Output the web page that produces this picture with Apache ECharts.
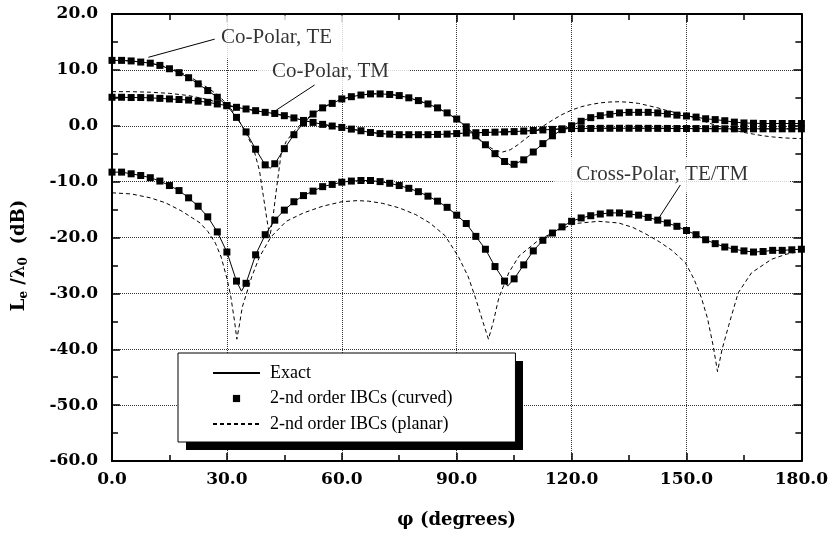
<!DOCTYPE html>
<html><head><meta charset="utf-8">
<script src="https://cdn.jsdelivr.net/npm/echarts@6/dist/echarts.min.js"></script>
<style>html,body{margin:0;padding:0;background:#fff}#c{width:831px;height:536px}</style>
</head><body><div id="c"></div>
<script>
// ---------- data ----------
const phi = [0,2.5,5,7.5,10,12.5,15,17.5,20,22.5,25,27.5,30,32.5,35,37.5,40,42.5,45,47.5,50,52.5,55,57.5,60,62.5,65,67.5,70,72.5,75,77.5,80,82.5,85,87.5,90,92.5,95,97.5,100,102.5,105,107.5,110,112.5,115,117.5,120,122.5,125,127.5,130,132.5,135,137.5,140,142.5,145,147.5,150,152.5,155,157.5,160,162.5,165,167.5,170,172.5,175,177.5,180];

const curvedTE = [11.7,11.7,11.6,11.4,11.2,10.8,10.2,9.5,8.6,7.5,
  6.3,5.1,3.6,1.5,-1.1,-4.2,-7.0,-6.8,-4.1,-1.6,
  0.5,2.1,3.2,4.0,4.8,5.2,5.5,5.7,5.7,5.6,
  5.4,5.0,4.5,3.9,3.2,2.3,1.2,-0.2,-1.8,-3.4,
  -5.0,-6.4,-6.9,-6.1,-4.7,-3.2,-1.8,-0.7,0.0,0.8,
  1.45,1.8,2.05,2.3,2.4,2.4,2.4,2.3,2.1,1.9,
  1.75,1.55,1.25,1.1,0.9,0.65,0.5,0.45,0.4,0.4,
  0.4,0.4,0.4];

const curvedTM = [5.1,5.1,5.05,5.05,5.0,4.9,4.8,4.7,4.6,4.4,
  4.2,3.9,3.6,3.3,3.0,2.7,2.4,2.2,1.8,1.4,
  0.95,0.6,0.25,-0.05,-0.3,-0.6,-0.9,-1.2,-1.4,-1.5,
  -1.6,-1.6,-1.6,-1.6,-1.55,-1.5,-1.4,-1.3,-1.25,-1.2,
  -1.15,-1.1,-1.05,-0.95,-0.85,-0.75,-0.65,-0.55,-0.5,-0.5,
  -0.48,-0.46,-0.45,-0.45,-0.45,-0.45,-0.46,-0.47,-0.48,-0.5,
  -0.5,-0.5,-0.52,-0.53,-0.54,-0.55,-0.55,-0.55,-0.55,-0.55,
  -0.55,-0.55,-0.55];

const curvedX = [-8.3,-8.3,-8.6,-8.9,-9.3,-9.9,-10.7,-11.6,-12.9,-14.4,
  -16.3,-19.0,-22.6,-27.8,-28.2,-23.1,-19.5,-16.9,-15.1,-13.6,
  -12.5,-11.7,-10.9,-10.5,-10.1,-9.9,-9.8,-9.8,-10.0,-10.3,
  -10.7,-11.2,-11.8,-12.6,-13.5,-14.6,-16.0,-17.5,-19.8,-22.1,
  -25.2,-27.8,-27.4,-24.9,-22.4,-20.5,-19.2,-18.1,-17.1,-16.5,
  -16.1,-15.8,-15.6,-15.6,-15.8,-16.0,-16.4,-16.9,-17.4,-18.0,
  -18.75,-19.5,-20.4,-21.1,-21.7,-22.1,-22.4,-22.6,-22.5,-22.3,
  -22.3,-22.2,-22.1];

// extra points of the exact solution at the bottoms of the nulls
const exactDipTE = [[41.3,-7.6],[104.2,-7.1]];
const exactDipTM = [];
const exactDipX = [[33.8,-29.6],[103.3,-28.7]];

const planarTE = [[0,11.7],[5,11.6],[10,11.2],[15,10.4],[20,8.9],[25,6.8],[28,5.3],[31,3.1],[33,1.1],[35,-1.3],[37,-4.2],
  [38.5,-8],[39.5,-12.5],[40.5,-17],[41.2,-20],[42,-16.5],[43,-11],[44.2,-4.8],[45.5,-2.8],[47.5,-1.0],[50,0.7],
  [52.5,2.2],[55,3.3],[57.5,4.1],[60,4.8],[65,5.5],[70,5.8],[75,5.4],[80,4.5],[85,3.2],[88,2.0],[90,1.2],
  [92.5,-0.4],[95,-2.0],[97.5,-3.4],[100,-4.4],[102,-4.7],[104,-4.3],[106,-3.4],[108,-2.3],[110,-1.3],
  [112.5,-0.1],[115,1.0],[117.5,2.0],[120,2.8],[122.5,3.4],[125,3.8],[127.5,4.1],[130,4.25],[132.5,4.3],
  [135,4.2],[137.5,4.0],[140,3.6],[142.5,3.2],[145,2.7],[147.5,2.3],[150,1.9],[152.5,1.3],[155,0.7],
  [157.5,0.1],[160,-0.4],[162.5,-0.8],[165,-1.2],[167.5,-1.5],[170,-1.8],[172.5,-2.0],[175,-2.15],[177.5,-2.25],[180,-2.3]];

const planarTM = [[0,6.1],[5,6.1],[10,6.0],[15,5.8],[20,5.4],[25,4.7],[30,3.7],[35,3.0],[40,2.4],[45,1.8],
  [50,0.95],[55,0.25],[60,-0.3],[65,-0.9],[70,-1.4],[75,-1.6],[80,-1.6],[85,-1.55],[90,-1.4],[95,-1.25],
  [100,-1.15],[105,-1.05],[110,-0.85],[115,-0.65],[120,-0.5],[130,-0.45],[140,-0.45],[150,-0.5],[160,-0.53],[170,-0.55],[180,-0.55]];

const planarX = [[0,-12.0],[5,-12.2],[10,-12.9],[14,-13.8],[18,-15.2],[21,-16.5],[23,-17.4],[25,-18.9],[27,-21],
  [28.5,-23.5],[30,-27.3],[31,-30.5],[32,-35],[32.6,-38.2],[33.3,-35.5],[34,-32.5],[35,-30.3],[36.5,-27],
  [38.5,-23.5],[41.5,-19.9],[45.5,-17.1],[50,-15.6],[55,-14.4],[60,-13.6],[64,-13.4],[67,-13.5],[70.7,-13.9],
  [75,-14.7],[79.3,-15.9],[83,-17.4],[87,-19.7],[90.5,-23.5],[93,-27],[95,-31],[96.8,-35],[98.3,-38.2],
  [99.6,-35],[101,-30.8],[103.6,-26.3],[106.3,-23.3],[111.5,-20.4],[116.7,-18.6],[121,-17.5],[127,-17.1],
  [132.3,-17.4],[136,-18.2],[139.2,-19.3],[143,-20.8],[146.2,-22.3],[149.7,-24.5],[152,-27.5],[153.9,-30.8],
  [155.5,-34.5],[157,-39.5],[158.1,-44.0],[159.3,-40],[161,-35.8],[163.5,-29.9],[167,-26.3],[172.2,-23.9],
  [176,-23.0],[180,-22.4]];

const legendNames = ['Exact', '2-nd order IBCs (curved)', '2-nd order IBCs (planar)'];

// axis ranges / ticks
const xRange = [0, 180], xStep = 30;
const yRange = [-60, 20], yStep = 10;

// annotations (anchor = centre of the white label box, in data units)
const annotationText = ['Co-Polar, TE', 'Co-Polar, TM', 'Cross-Polar, TE/TM'];
const annotationAnchor = [[44.15, 15.88], [57.7, 9.8], [146.26, -8.81]];
const arrowFrom = [[26.8, 15.5], [52.9, 7.3], [148.4, -10.6]];
const arrowTo = [[9.5, 12.25], [42.9, 2.8], [142.7, -16.6]];
// ---------- styles ----------
const annotationPadding = [[14, 12, 8, 3], [7, 20, 10, 15], [8, 42, 6, 22]];

const pairs = (ys) => phi.map((p, i) => [p, ys[i]]);
const withDips = (ys, dips) => pairs(ys).concat(dips).sort((a, b) => a[0] - b[0]);

const tickFont = {fontFamily: 'DejaVu Serif', fontWeight: 'bold', fontSize: 17, color: '#000'};
const axisLine = {onZero: false, lineStyle: {color: '#000', width: 2}};
const axisTick = {inside: true, length: 8, lineStyle: {color: '#000', width: 1.5}};
const minorTick = {show: true, splitNumber: 2, length: 6, lineStyle: {color: '#000', width: 1.5}};
const gridLine = {show: true, lineStyle: {color: '#333', type: 'dotted', width: 1}};

const black = '#000';
function planarSeries(d) {
  return {name: legendNames[2], type: 'line', data: d, symbol: 'none', z: 2,
    lineStyle: {color: black, width: 1, type: [4, 3]}, itemStyle: {color: black, opacity: 0}};
}
function exactSeries(d) {
  return {name: legendNames[0], type: 'line', data: d, symbol: 'none', z: 2,
    lineStyle: {color: black, width: 1}, itemStyle: {color: black, opacity: 0}};
}
function curvedSeries(d) {
  return {name: legendNames[1], type: 'line', data: d, symbol: 'rect', symbolSize: 7, showAllSymbol: true, z: 2,
    lineStyle: {color: black, width: 1, opacity: 0}, itemStyle: {color: black}};
}

const legendBox = {left: 178, top: 353, width: 337, height: 89, shadow: 8};

const chart = echarts.init(document.getElementById('c'), null, {renderer: 'canvas'});
chart.setOption({
  animation: false,
  backgroundColor: '#fff',
  grid: {left: 112, right: 28, top: 14, bottom: 75},
  legend: {
    data: legendNames, orient: 'vertical', left: legendBox.left, top: legendBox.top,
    itemWidth: 47, itemHeight: 9, itemGap: 5.5, padding: [10, 63, 8, 34],
    backgroundColor: '#fff', borderColor: '#000', borderWidth: 1,
    selectedMode: false,
    textStyle: {fontFamily: 'Liberation Serif', fontSize: 18, color: '#000', lineHeight: 20, padding: [0, 0, 0, 5]}
  },
  graphic: [{
    type: 'rect', z: 3, silent: true,
    left: legendBox.left + legendBox.shadow, top: legendBox.top + legendBox.shadow,
    shape: {width: legendBox.width, height: legendBox.height},
    style: {fill: '#000'}
  }],
  xAxis: [
    {type: 'value', min: xRange[0], max: xRange[1], interval: xStep, position: 'bottom',
      axisLine, axisTick, minorTick, splitLine: gridLine,
      axisLabel: Object.assign({formatter: v => v.toFixed(1), margin: 10}, tickFont),
      name: 'φ (degrees)', nameLocation: 'middle', nameGap: 50,
      nameTextStyle: {fontFamily: 'DejaVu Serif', fontWeight: 'bold', fontSize: 18, color: '#000'}},
    {type: 'value', min: xRange[0], max: xRange[1], interval: xStep, position: 'top',
      axisLine, axisTick, minorTick, splitLine: {show: false}, axisLabel: {show: false}}
  ],
  yAxis: [
    {type: 'value', min: yRange[0], max: yRange[1], interval: yStep, position: 'left',
      axisLine, axisTick, minorTick, splitLine: gridLine,
      axisLabel: Object.assign({formatter: v => v.toFixed(1), margin: 14}, tickFont),
      name: '{m|L}{s|e}{m| /λ}{s|0}{m|  (dB)}', nameLocation: 'middle', nameGap: 82,
      nameTextStyle: {padding: [0, 36, 0, 0], rich: {
        m: {fontFamily: 'DejaVu Serif', fontWeight: 'bold', fontSize: 18, color: '#000'},
        s: {fontFamily: 'DejaVu Serif', fontWeight: 'bold', fontSize: 12, color: '#000', padding: [10, 0, 0, 0]}
      }}},
    {type: 'value', min: yRange[0], max: yRange[1], interval: yStep, position: 'right',
      axisLine, axisTick, minorTick, splitLine: {show: false}, axisLabel: {show: false}}
  ],
  series: [
    {name: 'annotations', type: 'scatter', z: 1, silent: true, symbolSize: 1,
      itemStyle: {color: 'rgba(0,0,0,0)'},
      label: {show: true, position: 'inside', fontFamily: 'Liberation Serif', fontSize: 21, color: '#000', backgroundColor: '#fff'},
      data: annotationAnchor.map((a, i) => ({value: a, label: {formatter: annotationText[i], padding: annotationPadding[i]}}))},
    planarSeries(planarTE), planarSeries(planarTM), planarSeries(planarX),
    exactSeries(withDips(curvedTE, exactDipTE)), exactSeries(withDips(curvedTM, exactDipTM)), exactSeries(withDips(curvedX, exactDipX)),
    curvedSeries(pairs(curvedTE)), curvedSeries(pairs(curvedTM)), curvedSeries(pairs(curvedX)),
    {name: 'arrows', type: 'line', data: [], z: 3, silent: true,
      markLine: {silent: true, symbol: ['none', 'arrow'], symbolSize: [0, 12], animation: false,
        lineStyle: {color: '#000', type: 'solid', width: 1}, label: {show: false},
        data: arrowFrom.map((f, i) => [{coord: f}, {coord: arrowTo[i]}])}}
  ]
});
</script></body></html>
